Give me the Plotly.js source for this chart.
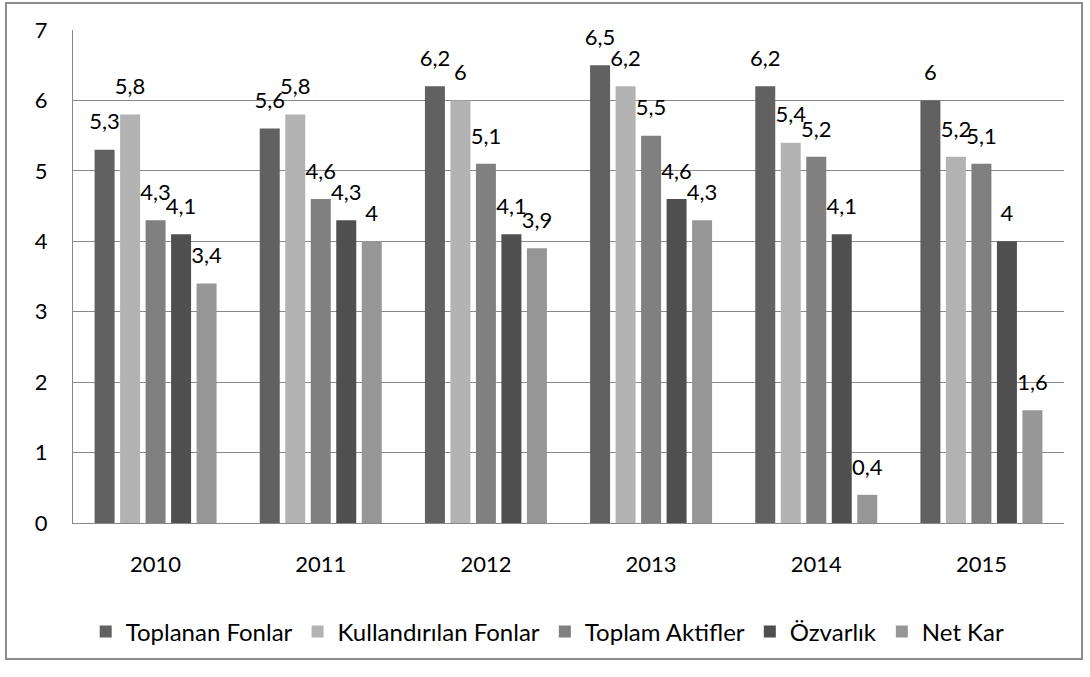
<!DOCTYPE html>
<html><head><meta charset="utf-8">
<script src="https://cdn.plot.ly/plotly-3.0.1.min.js"></script>
<style>
body{margin:0;padding:0;background:#fff;}
#frame{position:absolute;left:5px;top:2px;width:1078px;height:658px;border:2px solid #8c8c8c;box-sizing:border-box;pointer-events:none;z-index:5;}
#chart{position:absolute;left:0;top:0;width:1090px;height:677px;}
</style></head>
<body>
<div id="chart"></div>
<div id="frame"></div>
<script>
const years = ['2010','2011','2012','2013','2014','2015'];
const seriesNames = ['Toplanan Fonlar','Kullandırılan Fonlar','Toplam Aktifler','Özvarlık','Net Kar'];
const toplananFonlar = [5.3,5.6,6.2,6.5,6.2,6.0];
const kullandirilanFonlar = [5.8,5.8,6.0,6.2,5.4,5.2];
const toplamAktifler = [4.3,4.6,5.1,5.5,5.2,5.1];
const ozvarlik = [4.1,4.3,4.1,4.6,4.1,4.0];
const netKar = [3.4,4.0,3.9,4.3,0.4,1.6];
const yTicks = [0,1,2,3,4,5,6,7];

const values = [toplananFonlar,kullandirilanFonlar,toplamAktifler,ozvarlik,netKar];
const colors = ['#616161','#b3b3b3','#808080','#4f4f4f','#969696'];
const fmt = v => String(v).replace('.', ',');
const FONT = 'Lato, Open Sans, sans-serif';
const GAP = 0.228;

const bars = values.map((vals,i)=>({
  type:'bar', name:seriesNames[i], x:years, y:vals,
  marker:{color:colors[i]},
  hoverinfo:'none', legendgroup:'s'+i
}));
const labels = values.map((vals,i)=>({
  type:'scatter', mode:'markers+text', name:seriesNames[i], x:years, y:vals,
  marker:{size:22, opacity:0, color:colors[i]},
  text:vals.map(fmt), textposition:'top center', cliponaxis:false,
  textfont:{family:FONT, size:22, color:'#000'},
  showlegend:false, hoverinfo:'none', legendgroup:'s'+i
}));

const layout = {
  width:1090, height:677,
  margin:{l:73,r:26,t:30,b:154},
  paper_bgcolor:'#fff', plot_bgcolor:'#fff',
  barmode:'group', bargap:GAP, bargroupgap:0.216,
  scattermode:'group', scattergap:GAP,
  separators:', ',
  font:{family:FONT, size:22, color:'#000'},
  showlegend:true,
  legend:{orientation:'h', x:0.479, xanchor:'center', y:-0.175, yanchor:'top',
    font:{family:FONT, size:24}, itemwidth:30, traceorder:'normal'},
  xaxis:{type:'category', showline:true, linecolor:'#888', linewidth:1,
    ticks:'', tickfont:{size:22}, showgrid:false, ticklabelstandoff:22},
  yaxis:{range:[0,7], tickvals:yTicks, ticktext:yTicks.map(String),
    showgrid:true, gridcolor:'#888', gridwidth:1, showline:true, linecolor:'#888',
    zeroline:false, ticks:'', ticklabelstandoff:20, tickfont:{size:22}}
};
Plotly.newPlot('chart', bars.concat(labels), layout, {displayModeBar:false, staticPlot:true});
</script>
</body></html>
